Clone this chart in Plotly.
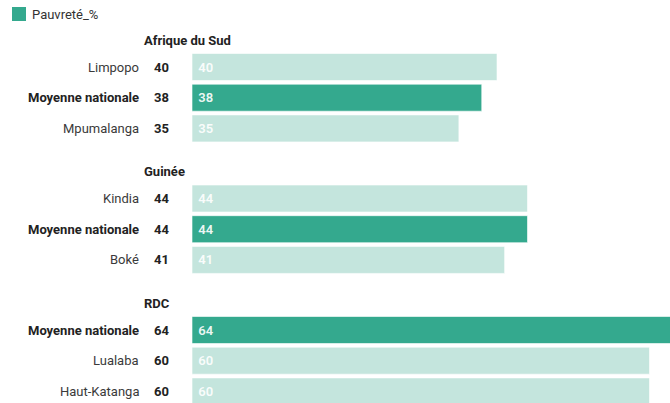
import plotly.graph_objects as go

# ---- data ----
groups = ["Afrique du Sud", "Guinée", "RDC"]
regions = [
    ["Limpopo", "Moyenne nationale", "Mpumalanga"],
    ["Kindia", "Moyenne nationale", "Boké"],
    ["Moyenne nationale", "Lualaba", "Haut-Katanga"],
]
pauvrete = [
    [40, 38, 35],
    [44, 44, 41],
    [64, 60, 60],
]
series_name = "Pauvreté_%"

# ---- style / layout constants ----
W, H = 670, 403
PLOT_LEFT = 192
DARK = "#34a98e"
LIGHT = "#c4e5dd"
FONT = "Roboto"
FIRST_ROW = 67.0
ROW_PITCH = 30.7
GROUP_PITCH = 131.5
BAR_H = 27
HEADER_OFFSET = 27
PX_PER_UNIT = 7.625

ys, xs, colors = [], [], []
annotations = []
for g, (gname, regs, vals) in enumerate(zip(groups, regions, pauvrete)):
    base = FIRST_ROW + g * GROUP_PITCH
    annotations.append(dict(
        xref="paper", yref="y", x=0, y=base - HEADER_OFFSET, xanchor="left", yanchor="middle",
        xshift=142 - PLOT_LEFT, text=f"<b>{gname}</b>", showarrow=False,
        font=dict(family=FONT, size=13, color="#222222")))
    for r, (reg, v) in enumerate(zip(regs, vals)):
        y = base + r * ROW_PITCH
        ys.append(y)
        xs.append(v)
        nat = reg == "Moyenne nationale"
        colors.append(DARK if nat else LIGHT)
        annotations.append(dict(
            xref="paper", yref="y", x=0, y=y, xanchor="right", yanchor="middle",
            xshift=141 - PLOT_LEFT, text=f"<b>{reg}</b>" if nat else reg, showarrow=False,
            font=dict(family=FONT, size=13, color="#222222" if nat else "#3a3a3a")))
        annotations.append(dict(
            xref="paper", yref="y", x=0, y=y, xanchor="left", yanchor="middle",
            xshift=152 - PLOT_LEFT, text=f"<b>{v}</b>", showarrow=False,
            font=dict(family=FONT, size=13, color="#222222")))

fig = go.Figure()
fig.add_trace(go.Bar(
    x=xs, y=ys, orientation="h", width=BAR_H,
    marker=dict(color=colors, line=dict(color="rgba(255,255,255,0.6)", width=1)),
    text=[f" {v}" for v in xs], textposition="inside", insidetextanchor="start",
    textfont=dict(family=FONT, size=13, color="rgba(255,255,255,0.92)", weight=600),
    showlegend=False, hoverinfo="skip", name=series_name,
))

# legend (manual)
fig.add_shape(type="rect", xref="paper", yref="y", xsizemode="pixel", xanchor=0,
              x0=12 - PLOT_LEFT, x1=26 - PLOT_LEFT, y0=7, y1=21,
              fillcolor=DARK, line=dict(width=0))
annotations.append(dict(
    xref="paper", yref="y", x=0, y=14, xanchor="left", yanchor="middle",
    xshift=30 - PLOT_LEFT, text=series_name, showarrow=False,
    font=dict(family=FONT, size=13, color="#333333")))

fig.update_layout(
    width=W, height=H,
    margin=dict(l=PLOT_LEFT, r=0, t=0, b=0),
    paper_bgcolor="white", plot_bgcolor="white",
    xaxis=dict(range=[0, (W - PLOT_LEFT) / PX_PER_UNIT], visible=False, fixedrange=True),
    yaxis=dict(range=[H, 0], visible=False, fixedrange=True),
    annotations=annotations,
    font=dict(family=FONT),
)

fig.write_html("out.html")
